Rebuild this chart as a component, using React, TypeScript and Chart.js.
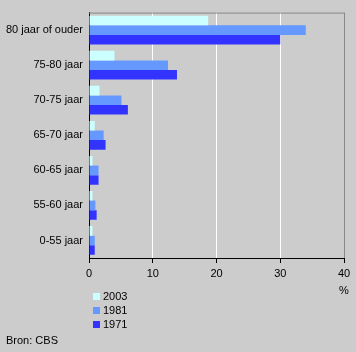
import React, { useEffect, useRef } from "react";
import { Chart, registerables } from "chart.js";

Chart.register(...registerables);

const categories = ["80 jaar of ouder", "75-80 jaar", "70-75 jaar", "65-70 jaar", "60-65 jaar", "55-60 jaar", "0-55 jaar"];
const seriesNames = ["2003", "1981", "1971"];
const values2003 = [18.7, 4.0, 1.65, 0.9, 0.55, 0.55, 0.55];
const values1981 = [34.0, 12.4, 5.1, 2.3, 1.5, 1.0, 0.9];
const values1971 = [30.0, 13.8, 6.1, 2.6, 1.5, 1.2, 0.9];
const colors = ["#ccffff", "#6699ff", "#3333ff"];
const xTicks = [0, 10, 20, 30, 40];
const unitLabel = "%";
const sourceLabel = "Bron: CBS";

const FONT = "Arial, 'Liberation Sans', sans-serif";

export default function App() {
  const ref = useRef<HTMLCanvasElement>(null);
  useEffect(() => {
    document.body.style.margin = "0";
    const canvas = ref.current!;
    const extras = {
      id: "extras",
      afterDraw(chart: any) {
        const ctx = chart.ctx;
        const a = chart.chartArea;
        ctx.save();
        // top and right grey border
        ctx.strokeStyle = "#888888";
        ctx.lineWidth = 1;
        ctx.beginPath();
        ctx.moveTo(a.left, a.top + 0.5);
        ctx.lineTo(a.right + 0.5, a.top + 0.5);
        ctx.lineTo(a.right + 0.5, a.bottom);
        ctx.stroke();
        ctx.fillStyle = "#000";
        ctx.font = "11px " + FONT;
        ctx.textBaseline = "middle";
        ctx.textAlign = "center";
        ctx.fillText(unitLabel, a.right, 291);
        ctx.textAlign = "left";
        chart.data.datasets.forEach((ds: any, i: number) => {
          const y = 297 + i * 14;
          ctx.fillStyle = ds.backgroundColor;
          ctx.fillRect(93, y - 4, 7, 7);
          ctx.fillStyle = "#000";
          ctx.fillText(ds.label, 103, y);
        });
        ctx.fillText(sourceLabel, 6, 341);
        ctx.restore();
      },
    };
    const chart = new Chart(canvas, {
      type: "bar",
      data: {
        labels: categories,
        datasets: [values2003, values1981, values1971].map((d, i) => ({
          label: seriesNames[i],
          data: d,
          backgroundColor: colors[i],
          borderWidth: 0,
          categoryPercentage: 0.82,
          barPercentage: 1.0,
        })),
      },
      options: {
        indexAxis: "y",
        animation: false,
        responsive: false,
        devicePixelRatio: 1,
        layout: { padding: { left: 0, top: 9, right: 12, bottom: 0 } },
        plugins: { legend: { display: false }, tooltip: { enabled: false } },
        scales: {
          x: {
            min: 0,
            max: 40,
            afterBuildTicks: (s: any) => {
              s.ticks = xTicks.map((v) => ({ value: v }));
            },
            afterFit: (s: any) => {
              s.height = 94;
            },
            grid: {
              color: (c: any) =>
                c.tick && c.tick.value === 40 ? "#888888" : c.tick && c.tick.value === 0 ? "rgba(0,0,0,0)" : "#ffffff",
              tickColor: "#000",
              tickLength: 5,
              lineWidth: 1,
            },
            border: { display: true, color: "#000", width: 1 },
            ticks: { color: "#000", font: { size: 11, family: FONT }, padding: 4, maxRotation: 0 },
          },
          y: {
            afterFit: (s: any) => {
              s.width = 89;
            },
            grid: { display: true, color: "rgba(0,0,0,0)", drawTicks: false },
            border: { display: true, color: "#000", width: 1 },
            ticks: { color: "#000", font: { size: 11, family: FONT }, padding: 6 },
          },
        },
      },
      plugins: [extras],
    } as any);
    return () => chart.destroy();
  }, []);
  return (
    <div style={{ position: "fixed", left: 0, top: 0, width: 356, height: 352, background: "#cccccc" }}>
      <canvas ref={ref} width={356} height={352} style={{ width: 356, height: 352, display: "block" }} />
    </div>
  );
}
